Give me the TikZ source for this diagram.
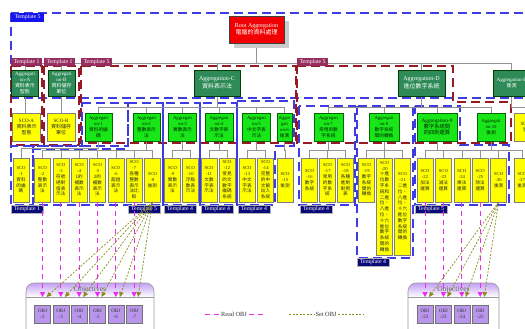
\documentclass[tikz,border=0pt]{standalone}
\usepackage{fontspec}
\setmainfont{Liberation Serif}
\newfontfamily\cjk{Noto Sans CJK TC}
\usepackage{tikz}
\usetikzlibrary{positioning,arrows.meta,shadows,backgrounds}
\definecolor{rootred}{RGB}{240,0,0}
\definecolor{aggdark}{RGB}{46,139,87}
\definecolor{agglime}{RGB}{25,230,25}
\definecolor{scoyel}{RGB}{255,255,0}
\definecolor{tplblue}{RGB}{60,60,225}
\definecolor{tplred}{RGB}{150,25,35}
\definecolor{tagmaroon}{RGB}{150,45,95}
\definecolor{tagnavy}{RGB}{10,10,120}
\definecolor{tagblue}{RGB}{20,20,235}
\definecolor{objlav}{RGB}{185,150,235}
\definecolor{objband}{RGB}{195,160,245}
\definecolor{readmag}{RGB}{240,40,240}
\definecolor{setolive}{RGB}{140,140,30}

\begin{document}
\begin{tikzpicture}[
  x=1pt,y=-1pt,
  every node/.style={inner sep=0pt,outer sep=0pt},
  rootbox/.style={fill=rootred,draw=black!75,line width=0.8pt,text=white,
    minimum width=55pt,minimum height=27pt,align=center,
    font=\fontsize{6}{7.5}\selectfont,
    drop shadow={shadow xshift=5pt,shadow yshift=-5pt,fill=gray!40,opacity=1}},
  aggtop/.style={fill=aggdark,draw=green!25!black,line width=0.9pt,text=white,
    minimum height=26pt,align=center,font=\fontsize{6}{7.5}\selectfont},
  aggsub/.style={fill=agglime,draw=green!40!black,line width=0.5pt,
    text=green!15!black,minimum height=28pt,align=center,
    font=\fontsize{4.7}{5.8}\selectfont},
  scobox/.style={fill=scoyel,draw=gray,line width=0.5pt,text=black!85,
    minimum width=16pt,minimum height=44pt,align=center,
    font=\fontsize{4.6}{5.8}\selectfont},
  scowide/.style={scobox,minimum width=28pt,minimum height=28pt,
    font=\fontsize{5}{6.2}\selectfont},
  tplb/.style={draw=tplblue,line width=1.3pt,dash pattern=on 9pt off 5pt},
  tplr/.style={draw=tplred,line width=1.3pt,dash pattern=on 9pt off 5pt},
  conn/.style={draw=gray!85,line width=0.6pt},
  tagtop/.style={fill=tagmaroon,text=white,minimum width=31pt,
    minimum height=8pt,font=\fontsize{5.8}{6}\selectfont},
  tagbot/.style={fill=tagnavy,draw=gray!60,line width=0.4pt,text=white,
    minimum width=32pt,minimum height=8.5pt,font=\fontsize{5.8}{6}\selectfont},
  tagout/.style={fill=tagblue,text=white,minimum width=33pt,
    minimum height=9pt,font=\fontsize{5.8}{6}\selectfont},
  objcase/.style={fill=white,minimum height=62pt,rounded corners=8pt},
  objbox/.style={fill=objlav,draw=black!55,line width=0.5pt,minimum width=16pt,
    minimum height=18pt,align=center,text=black!80,
    font=\fontsize{5}{6}\selectfont},
  objttl/.style={text=gray!75!black,font=\fontsize{7.5}{8}\selectfont},
  lgdtext/.style={inner sep=2pt,text=black!80,font=\fontsize{6.3}{7}\selectfont},
  readobj/.style={draw=readmag,line width=0.8pt,dash pattern=on 5pt off 4pt},
  readarr/.style={readobj,-{Triangle[length=5pt,width=5pt]}},
  setobj/.style={draw=setolive,line width=0.7pt,dash pattern=on 2pt off 1.5pt},
  setarr/.style={setobj,-{Triangle[length=5pt,width=4.5pt]}},
]
\useasboundingbox (0,0) rectangle (525,329);
\clip (0,0) rectangle (525,329);

% root and top aggregations
\node[rootbox](root)at(256.5,29.5){Root Aggregation\\\cjk 電腦的資料處理};
\node[aggtop,minimum width=27pt,font=\fontsize{5}{6.2}\selectfont](aggA)
  at(25,83){Aggregati\\on-A\\\cjk 資料表示\\\cjk 型態};
\node[aggtop,minimum width=27pt,font=\fontsize{5}{6.2}\selectfont](aggB)
  at(61.5,83){Aggregati\\on-B\\\cjk 資料儲存\\\cjk 單位};
\node[aggtop,minimum width=46pt](aggC)at(217,83){Aggregation-C\\\cjk 資料表示法};
\node[aggtop,minimum width=47pt](aggD)at(421.5,83){Aggregation-D\\\cjk 進位數字系統};
\node[aggtop,minimum width=37pt,font=\fontsize{5}{6.2}\selectfont](aggE)
  at(511.5,83){Aggregation-E\\\cjk 後測};

\node[scowide](scoA)at(26.5,127){SCO-A\\\cjk 資料表示\\\cjk 型態};
\node[scowide](scoB)at(61,127){SCO-B\\\cjk 資料儲存\\\cjk 單位};
\node[scowide](scoC)at(528,127){SCO-C\\\cjk 後測};

% second level aggregations
\node[aggsub,minimum width=27pt](agg1)at(98.5,127){Aggregati\\on-1\\\cjk 資料的編\\\cjk 碼};
\node[aggsub,minimum width=27pt](agg2)at(146.5,127){Aggregati\\on-2\\\cjk 整數表示\\\cjk 法};
\node[aggsub,minimum width=28pt](agg3)at(182.5,127){Aggregati\\on-3\\\cjk 實數表示\\\cjk 法};
\node[aggsub,minimum width=28pt](agg4)at(219,127){Aggregati\\on-4\\\cjk 文數字表\\\cjk 示法};
\node[aggsub,minimum width=28pt](agg5)at(256.5,127){Aggregati\\on-5\\\cjk 中文字表\\\cjk 示法};
\node[aggsub,minimum width=15pt](agg6)at(284.5,127){Aggre\\gati\\on-6\\\cjk 後測};
\node[aggsub,minimum width=29pt](agg7)at(328.5,127){Aggregati\\on-7\\\cjk 常用的數\\\cjk 字系統};
\node[aggsub,minimum width=30pt](agg8)at(384,127){Aggregati\\on-8\\\cjk 數字系統\\\cjk 間的轉換};
\node[aggsub,minimum width=40pt,font=\fontsize{5.3}{6.4}\selectfont](agg9)
  at(437,127){Aggregation-9\\\cjk 數字系統間\\\cjk 的四則運算};
\node[aggsub,minimum width=28pt](agg10)at(491,127){Aggregati\\on-10\\\cjk 後測};

% SCO row
\node[scobox](s1)at(21,180){SCO\\-1\\\cjk 資料\\\cjk 的編\\\cjk 碼};
\node[scobox](s2)at(42.5,180){SCO\\-2\\\cjk 整數\\\cjk 表示\\\cjk 法};
\node[scobox,anchor=west](s3)at([xshift=2.33pt]s2.east){SCO\\-3\\\cjk 符號\\\cjk 絕對\\\cjk 值表\\\cjk 示法};
\node[scobox,anchor=west](s4)at([xshift=2.33pt]s3.east){SCO\\-4\\\cjk 1的\\\cjk 補數\\\cjk 表示\\\cjk 法};
\node[scobox,anchor=west](s5)at([xshift=2.33pt]s4.east){SCO\\-5\\\cjk 2的\\\cjk 補數\\\cjk 表示\\\cjk 法};
\node[scobox,anchor=west](s6)at([xshift=2.33pt]s5.east){SCO\\-6\\\cjk 超過\\\cjk 表示\\\cjk 法};
\node[scobox,anchor=west](s7)at([xshift=2.33pt]s6.east){SCO\\-7\\\cjk 各種\\\cjk 整數\\\cjk 表示\\\cjk 法比\\\cjk 較};
\node[scobox,anchor=west](s8)at([xshift=2.33pt]s7.east){SCO\\-8\\\cjk 後測};

\node[scobox](s9)at(172.5,180){SCO\\-9\\\cjk 實數\\\cjk 表示\\\cjk 法};
\node[scobox,anchor=west](s10)at([xshift=2pt]s9.east){SCO\\-10\\\cjk 浮點\\\cjk 數表\\\cjk 示法};
\node[scobox](s11)at(209,180){SCO\\-11\\\cjk 文數\\\cjk 字表\\\cjk 示法};
\node[scobox,anchor=west](s12)at([xshift=2pt]s11.east){SCO\\-12\\\cjk 常見\\\cjk 的文\\\cjk 數字\\\cjk 編碼\\\cjk 系統};
\node[scobox](s13)at(247,180){SCO\\-13\\\cjk 中文\\\cjk 字表\\\cjk 示法};
\node[scobox,anchor=west](s14)at([xshift=2.5pt]s13.east){SCO\\-14\\\cjk 完整\\\cjk 的中\\\cjk 文輸\\\cjk 出入\\\cjk 系統};
\node[scobox](s15)at(285,180){SCO\\-15\\\cjk 後測};

\node[scobox](s16)at(309.5,180){SCO\\-16\\\cjk 數字\\\cjk 系統};
\node[scobox,anchor=west](s17)at([xshift=2pt]s16.east){SCO\\-17\\\cjk 常用\\\cjk 的數\\\cjk 字系\\\cjk 統};
\node[scobox,anchor=west](s18)at([xshift=2pt]s17.east){SCO\\-18\\\cjk 各種\\\cjk 進制\\\cjk 對照\\\cjk 表};
\node[scobox](s19)at(366.5,180){SCO\\-19\\\cjk 數字\\\cjk 系統\\\cjk 間的\\\cjk 轉換};
\node[scobox,anchor=north west,minimum height=97pt](s20)at([xshift=2pt]s19.north east)
  {SCO\\-20\\\cjk 十進\\\cjk 位數\\\cjk 字系\\\cjk 統和\\\cjk 二進\\\cjk 位、\\\cjk 八進\\\cjk 位、\\\cjk 十六\\\cjk 進位\\\cjk 數字\\\cjk 系統\\\cjk 間的\\\cjk 轉換};
\node[scobox,anchor=north west,minimum height=97pt](s21)at([xshift=2pt]s20.north east)
  {SCO\\-21\\\cjk 二進\\\cjk 位、\\\cjk 八進\\\cjk 位、\\\cjk 十六\\\cjk 進位\\\cjk 數字\\\cjk 系統\\\cjk 間的\\\cjk 轉換};

\node[scobox](s22)at(425,180){SCO\\-22\\\cjk 加法\\\cjk 運算};
\node[scobox,anchor=west](s23)at([xshift=2.4pt]s22.east){SCO\\-23\\\cjk 減法\\\cjk 運算};
\node[scobox,anchor=west](s24)at([xshift=2.4pt]s23.east){SCO\\-24\\\cjk 乘法\\\cjk 運算};
\node[scobox,anchor=west](s25)at([xshift=2.4pt]s24.east){SCO\\-25\\\cjk 除法\\\cjk 運算};
\node[scobox,anchor=west](s26)at([xshift=2.4pt]s25.east){SCO\\-26\\\cjk 後測};
\node[scobox](s27)at(522,180){SCO\\-27\\\cjk 後測};

% templates and tree lines behind
\begin{scope}[on background layer]
\draw[tplb](11,13)rectangle(560,98);
\draw[tplr](11,66)rectangle(42,145);
\draw[tplr](44,66)rectangle(79,145);
\draw[tplr](81,66)rectangle(296,143);
\draw[tplr](297,66)--(453,66)--(453,102)--(511,102)--(511,143)--(297,143)--cycle;
\draw[tplb](82,103)--(128,103)--(128,146)--(33,146)--(33,205)--(11,205)--(11,146)--(82,146)--cycle;
\draw[tplb](128,103)--(163,103)--(163,205)--(33,205)--(33,149)--(128,149)--cycle;
\draw[tplb](163,103)rectangle(200,205);
\draw[tplb](200,103)rectangle(237,205);
\draw[tplb](237,101)--(294,101)--(294,146)--(275,146)--(275,205)--(237,205)--cycle;
\draw[tplb](299,106)rectangle(355,205);
\draw[tplb](357,106)rectangle(413,258);
\draw[tplb](415,106)--(460,106)--(460,145)--(509,145)--(509,205)--(415,205)--cycle;

\draw[conn](root.south)--++(0,20)-|(aggA.north);
\draw[conn](root.south)--++(0,20)-|(aggB.north);
\draw[conn](root.south)--++(0,20)-|(aggC.north);
\draw[conn](root.south)--++(0,20)-|(aggD.north);
\draw[conn](root.south)--++(0,20)-|(aggE.north);
\draw[conn](aggA.south)--(aggA.south|-scoA.north);
\draw[conn](aggB.south)--(aggB.south|-scoB.north);
\draw[conn](aggE.south)--++(0,11)-|(scoC.north);
\draw[conn](aggC.south)--++(0,11)-|(agg1.north);
\draw[conn](aggC.south)--++(0,11)-|(agg2.north);
\draw[conn](aggC.south)--++(0,11)-|(agg3.north);
\draw[conn](aggC.south)--++(0,11)-|(agg4.north);
\draw[conn](aggC.south)--++(0,11)-|(agg5.north);
\draw[conn](aggC.south)--++(0,11)-|(agg6.north);
\draw[conn](aggD.south)--++(0,11)-|(agg7.north);
\draw[conn](aggD.south)--++(0,11)-|(agg8.north);
\draw[conn](aggD.south)--++(0,11)-|(agg9.north);
\draw[conn](aggD.south)--++(0,11)-|(agg10.north);
\draw[conn](agg1.south)--++(0,7)-|(s1.north);
\draw[conn](agg2.south)--++(0,9)-|(s2.north);
\draw[conn](agg2.south)--++(0,9)-|(s3.north);
\draw[conn](agg2.south)--++(0,9)-|(s4.north);
\draw[conn](agg2.south)--++(0,9)-|(s5.north);
\draw[conn](agg2.south)--++(0,9)-|(s6.north);
\draw[conn](agg2.south)--++(0,9)-|(s7.north);
\draw[conn](agg2.south)--++(0,9)-|(s8.north);
\draw[conn](agg3.south)--++(0,9)-|(s9.north);
\draw[conn](agg3.south)--++(0,9)-|(s10.north);
\draw[conn](agg4.south)--++(0,9)-|(s11.north);
\draw[conn](agg4.south)--++(0,9)-|(s12.north);
\draw[conn](agg5.south)--++(0,9)-|(s13.north);
\draw[conn](agg5.south)--++(0,9)-|(s14.north);
\draw[conn](agg6.south)--++(0,9)-|(s15.north);
\draw[conn](agg7.south)--++(0,9)-|(s16.north);
\draw[conn](agg7.south)--++(0,9)-|(s17.north);
\draw[conn](agg7.south)--++(0,9)-|(s18.north);
\draw[conn](agg8.south)--++(0,9)-|(s19.north);
\draw[conn](agg8.south)--++(0,9)-|(s20.north);
\draw[conn](agg8.south)--++(0,9)-|(s21.north);
\draw[conn](agg9.south)--++(0,9)-|(s22.north);
\draw[conn](agg9.south)--++(0,9)-|(s23.north);
\draw[conn](agg9.south)--++(0,9)-|(s24.north);
\draw[conn](agg9.south)--++(0,9)-|(s25.north);
\draw[conn](agg9.south)--++(0,9)-|(s26.north);
\draw[conn](agg10.south)--++(0,9)-|(s27.north);
\end{scope}

% template tags
\node[tagout,anchor=north west](tg0)at(11,13){Template 5};
\node[tagtop,anchor=south west](tgA)at(11,66){Template 1};
\node[tagtop,anchor=south west](tgB)at(44,66){Template 1};
\node[tagtop,anchor=south west](tgC)at(81,66){Template 5};
\node[tagtop,anchor=south west](tgD)at(297,66){Template 5};
\node[tagbot,anchor=north west](tg1)at(11,205){Template 1};
\node[tagbot,anchor=north west](tg2)at(128,205){Template 5};
\node[tagbot,anchor=north west](tg3)at(164,205){Template 4};
\node[tagbot,anchor=north west](tg4)at(201,205){Template 4};
\node[tagbot,anchor=north west](tg5)at(238,205){Template 4};
\node[tagbot,anchor=north west](tg7)at(300,205){Template 4};
\node[tagbot,anchor=north west](tg8)at(357,258){Template 4};
\node[tagbot,anchor=north west](tg9)at(415,205){Template 5};

% objectives
\node[objcase,minimum width=128pt](caseL)at(90,314){};
\shade[top color=objband,bottom color=white]([yshift=-14pt]caseL.north west)
  [rounded corners=8pt]--(caseL.north west)--(caseL.north east)
  [sharp corners]--([yshift=-14pt]caseL.north east)--cycle;
\draw[gray!80,line width=0.6pt]([yshift=-14pt]caseL.north west)--([yshift=-14pt]caseL.north east);
\draw[gray!80,line width=0.6pt,rounded corners=8pt](caseL.south west)rectangle(caseL.north east);
\node[objttl](ttlL)at([yshift=-7pt]caseL.north){Objectives};

\node[objcase,minimum width=91pt](caseR)at(453.5,314){};
\shade[top color=objband,bottom color=white]([yshift=-14pt]caseR.north west)
  [rounded corners=8pt]--(caseR.north west)--(caseR.north east)
  [sharp corners]--([yshift=-14pt]caseR.north east)--cycle;
\draw[gray!80,line width=0.6pt]([yshift=-14pt]caseR.north west)--([yshift=-14pt]caseR.north east);
\draw[gray!80,line width=0.6pt,rounded corners=8pt](caseR.south west)rectangle(caseR.north east);
\node[objttl](ttlR)at([yshift=-7pt]caseR.north){Objectives};

\node[objbox](o2)at(s2|-0,314){OBJ\\-2};
\node[objbox](o3)at(s3|-0,314){OBJ\\-3};
\node[objbox](o4)at(s4|-0,314){OBJ\\-4};
\node[objbox](o5)at(s5|-0,314){OBJ\\-5};
\node[objbox](o6)at(s6|-0,314){OBJ\\-6};
\node[objbox](o7)at(s7|-0,314){OBJ\\-7};
\node[objbox](o22)at(s22|-0,314){OBJ\\-22};
\node[objbox](o23)at(s23|-0,314){OBJ\\-23};
\node[objbox](o24)at(s24|-0,314){OBJ\\-24};
\node[objbox](o25)at(s25|-0,314){OBJ\\-25};

% read / set arrows
\draw[readarr](s2.south)--([yshift=8pt]o2.north);
\draw[readarr](s3.south)--([yshift=8pt]o3.north);
\draw[readarr](s4.south)--([yshift=8pt]o4.north);
\draw[readarr](s5.south)--([yshift=8pt]o5.north);
\draw[readarr](s6.south)--([yshift=8pt]o6.north);
\draw[readarr](s7.south)--([yshift=8pt]o7.north);
\draw[setarr](s8.south)--([shift={(4pt,8pt)}]o2.north);
\draw[setarr](s8.south)--([shift={(4pt,8pt)}]o3.north);
\draw[setarr](s8.south)--([shift={(4pt,8pt)}]o4.north);
\draw[setarr](s8.south)--([shift={(4pt,8pt)}]o5.north);
\draw[setarr](s8.south)--([shift={(4pt,8pt)}]o6.north);
\draw[setarr](s8.south)--([shift={(4pt,8pt)}]o7.north);
\draw[readarr](s22.south)--([yshift=8pt]o22.north);
\draw[readarr](s23.south)--([yshift=8pt]o23.north);
\draw[readarr](s24.south)--([yshift=8pt]o24.north);
\draw[readarr](s25.south)--([yshift=8pt]o25.north);
\draw[setarr](s26.south)--([shift={(4pt,8pt)}]o22.north);
\draw[setarr](s26.south)--([shift={(4pt,8pt)}]o23.north);
\draw[setarr](s26.south)--([shift={(4pt,8pt)}]o24.north);
\draw[setarr](s26.south)--([shift={(4pt,8pt)}]o25.north);

% legend
\node[lgdtext](rdlbl)at(234,314){Read OBJ};
\coordinate(rdA)at(205,314);
\coordinate(rdB)at(264,314);
\draw[readobj](rdA)--(rdlbl.west);
\draw[readobj](rdlbl.east)--(rdB);
\node[lgdtext](stlbl)at(326,314){Set OBJ};
\coordinate(stA)at(289,314);
\coordinate(stB)at(364,314);
\draw[setobj](stA)--(stlbl.west);
\draw[setobj](stlbl.east)--(stB);
\end{tikzpicture}
\end{document}
